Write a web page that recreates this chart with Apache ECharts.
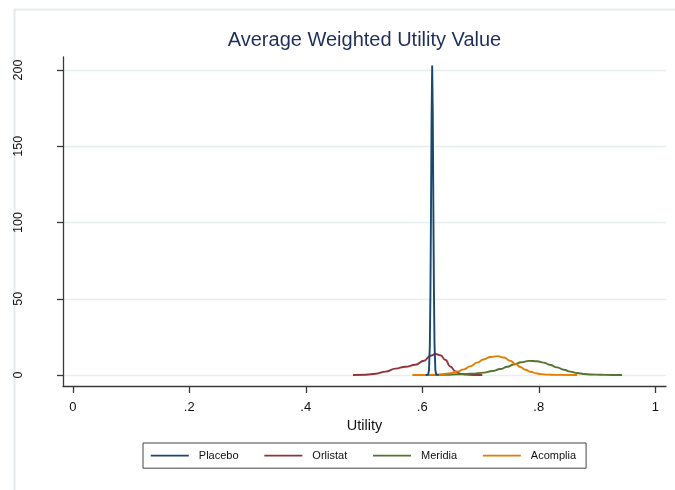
<!DOCTYPE html>
<html>
<head>
<meta charset="utf-8">
<script src="https://cdn.jsdelivr.net/npm/echarts@6/dist/echarts.min.js"></script>
<style>
  html, body { margin: 0; padding: 0; background: #ffffff; }
  #chart { width: 675px; height: 490px; }
</style>
</head>
<body>
<div id="chart"></div>
<script>
// Kernel density estimates of the average weighted utility, one curve per treatment arm.
const seriesNames = ['Placebo', 'Orlistat', 'Meridia', 'Acomplia'];
const seriesColors = ['#1a476f', '#90353b', '#55752f', '#e37e00'];

// [utility, density] pairs
const placebo = [
  [0.606, 0], [0.610, 0.3], [0.6115, 3], [0.613, 20], [0.614, 55], [0.615, 110],
  [0.616, 170], [0.617, 203], [0.618, 172], [0.619, 112], [0.620, 55], [0.621, 20],
  [0.6225, 3], [0.624, 0.3], [0.628, 0]
];
const orlistat = [
  [0.481, 0], [0.503, 0.2], [0.520, 0.8], [0.537, 2.2], [0.554, 4.2], [0.571, 5.4],
  [0.588, 6.7], [0.603, 9.4], [0.614, 12.6], [0.623, 13.8], [0.631, 13.0], [0.640, 9.8],
  [0.648, 5.6], [0.657, 2.4], [0.665, 0.9], [0.675, 0.25], [0.688, 0.05], [0.703, 0]
];
const meridia = [
  [0.600, 0], [0.620, 0.05], [0.640, 0.2], [0.662, 0.5], [0.685, 0.9], [0.706, 1.6],
  [0.720, 2.6], [0.734, 3.9], [0.746, 5.4], [0.757, 6.9], [0.770, 8.4], [0.783, 9.3],
  [0.797, 9.0], [0.808, 8.1], [0.820, 6.6], [0.831, 5.0], [0.843, 3.5], [0.854, 2.2],
  [0.866, 1.3], [0.877, 0.7], [0.890, 0.35], [0.906, 0.15], [0.925, 0.05], [0.943, 0]
];
const acomplia = [
  [0.583, 0], [0.600, 0.05], [0.620, 0.2], [0.635, 0.6], [0.648, 1.2], [0.660, 2.2],
  [0.671, 3.7], [0.683, 5.8], [0.694, 8.1], [0.705, 10.2], [0.717, 11.8], [0.729, 12.4],
  [0.740, 11.5], [0.751, 9.4], [0.760, 7.3], [0.768, 5.3], [0.777, 3.5], [0.786, 2.1],
  [0.795, 1.2], [0.803, 0.6], [0.815, 0.25], [0.830, 0.08], [0.866, 0]
];

const xTicks = [0, 0.2, 0.4, 0.6, 0.8, 1];
const yTicks = [0, 50, 100, 150, 200];

const FONT = '"Liberation Sans", Arial, sans-serif';
const seriesData = [placebo, orlistat, meridia, acomplia];

const chart = echarts.init(document.getElementById('chart'), null, { renderer: 'canvas' });

const option = {
  backgroundColor: '#ffffff',
  animation: false,
  title: {
    text: 'Average Weighted Utility Value',
    left: 364.5,
    textAlign: 'center',
    top: 30,
    padding: 0,
    textStyle: { fontFamily: FONT, fontSize: 20, fontWeight: 'normal', color: '#1f2f5b' }
  },
  graphic: [{
    type: 'rect',
    silent: true,
    shape: { x: 14.5, y: 9.5, width: 700, height: 520 },
    style: { fill: 'none', stroke: '#e4ebee', lineWidth: 2 }
  }],
  legend: {
    left: 143,
    top: 443,
    orient: 'horizontal',
    padding: [7, 10, 7, 7],
    itemGap: 25,
    itemWidth: 38,
    itemHeight: 14,
    borderColor: '#444',
    borderWidth: 1,
    borderRadius: 0,
    itemStyle: { opacity: 0 },
    lineStyle: { width: 1.6 },
    textStyle: { fontFamily: FONT, fontSize: 11, color: '#111', padding: [0, 0, 0, 5] },
    data: seriesNames
  },
  grid: { left: 63, right: 9, top: 57, bottom: 104 },
  xAxis: {
    type: 'value',
    min: -0.0168,
    max: 1.0184,
    name: 'Utility',
    nameLocation: 'middle',
    nameGap: 28,
    nameTextStyle: { fontFamily: FONT, fontSize: 14.5, color: '#111' },
    axisLine: { show: true, onZero: false, lineStyle: { color: '#3a3a3a', width: 1.3 } },
    axisTick: { show: true, length: 7, customValues: xTicks, lineStyle: { color: '#3a3a3a', width: 1.3 } },
    axisLabel: {
      customValues: xTicks,
      margin: 15,
      fontFamily: FONT,
      fontSize: 13,
      color: '#111',
      formatter: v => (v === 0 ? '0' : v === 1 ? '1' : String(+v.toFixed(1)).replace(/^0\./, '.'))
    },
    splitLine: { show: false }
  },
  yAxis: {
    type: 'value',
    min: -7.2,
    max: 208.5,
    axisLine: { show: true, onZero: false, lineStyle: { color: '#3a3a3a', width: 1.3 } },
    axisTick: { show: true, length: 6, customValues: yTicks, lineStyle: { color: '#3a3a3a', width: 1.3 } },
    axisLabel: {
      customValues: yTicks,
      rotate: 90,
      margin: 38,
      fontFamily: FONT,
      fontSize: 12.5,
      color: '#111'
    },
    splitLine: { show: true, lineStyle: { color: '#e6eef0', width: 1.3 } }
  },
  series: seriesData.map((d, i) => ({
    name: seriesNames[i],
    type: 'line',
    data: d,
    smooth: i === 0 ? false : 0.5,
    smoothMonotone: 'x',
    symbol: 'none',
    showSymbol: false,
    color: seriesColors[i],
    lineStyle: { width: 1.9, color: seriesColors[i] },
    z: 3 + (i === 0 ? 1 : 0)
  }))
};

chart.setOption(option);
</script>
</body>
</html>
